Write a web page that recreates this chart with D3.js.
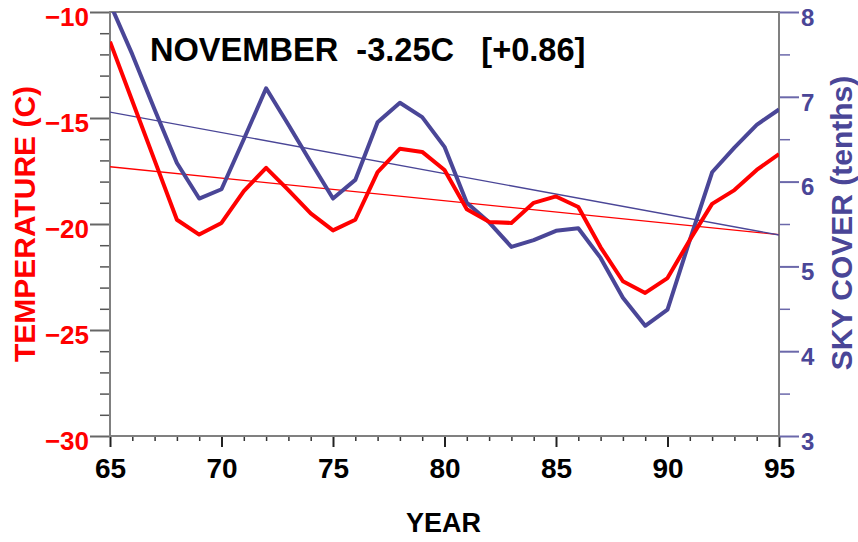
<!DOCTYPE html>
<html>
<head>
<meta charset="utf-8">
<script src="https://cdn.jsdelivr.net/npm/d3@7"></script>
<style>
  html, body { margin: 0; padding: 0; background: #ffffff; }
  svg { display: block; }
  text { font-family: "Liberation Sans", Arial, Helvetica, sans-serif; font-weight: bold; }
</style>
</head>
<body>
<svg id="chart" width="858" height="542"></svg>
<script>
// ---- data ----
const years = [65, 66, 67, 68, 69, 70, 71, 72, 73, 74, 75, 76, 77, 78, 79, 80,
               81, 82, 83, 84, 85, 86, 87, 88, 89, 90, 91, 92, 93, 94, 95];
const temperature = [-11.4, -14.2, -17.0, -19.8, -20.5, -19.95, -18.45, -17.35, -18.4, -19.5,
                     -20.3, -19.8, -17.55, -16.45, -16.6, -17.45, -19.3, -19.9, -19.95, -19.0,
                     -18.7, -19.2, -21.1, -22.7, -23.25, -22.55, -20.75, -19.05, -18.4, -17.45, -16.7];
const skyCover = [8.1, 7.5, 6.85, 6.22, 5.8, 5.91, 6.5, 7.1, 6.67, 6.23,
                  5.8, 6.02, 6.7, 6.93, 6.76, 6.41, 5.75, 5.52, 5.23, 5.31,
                  5.42, 5.45, 5.1, 4.63, 4.3, 4.49, 5.31, 6.11, 6.4, 6.67, 6.85];
const trendYears = [65, 95];
const temperatureTrend = [-17.3, -20.5];
const skyCoverTrend = [6.82, 5.37];
const xTickLabels = [65, 70, 75, 80, 85, 90, 95];
const tempTickLabels = [-30, -25, -20, -15, -10];
const skyTickLabels = [3, 4, 5, 6, 7, 8];
const titleText = "NOVEMBER  -3.25C   [+0.86]";

// ---- layout ----
const RED = "#ff0000";
const BLUE = "#4a4697";
const AXIS = "#808080";
const mLeft = 110, mRight = 779, mTop = 12, mBottom = 436;

const svg = d3.select("#chart");

const x = d3.scaleLinear().domain([65, 95]).range([mLeft, mRight]);
const yT = d3.scaleLinear().domain([-30, -10]).range([mBottom, mTop]);
const yS = d3.scaleLinear().domain([3, 8]).range([mBottom, mTop]);

svg.append("defs").append("clipPath").attr("id", "plotclip")
  .append("rect").attr("x", mLeft).attr("y", mTop).attr("width", mRight - mLeft).attr("height", mBottom - mTop);

const fontStyle = g => g.style("font-family", "'Liberation Sans', Arial, sans-serif").style("font-weight", "bold");

// ---- axes ----
const xMinor = d3.range(65, 96).filter(v => v % 5 !== 0);
svg.append("g").attr("transform", `translate(0,${mBottom})`)
  .call(d3.axisBottom(x).tickValues(xMinor).tickSize(5).tickFormat(""))
  .call(g => g.select(".domain").remove())
  .call(g => g.selectAll("line").attr("stroke", "#333").attr("stroke-width", 1.5));
svg.append("g").attr("transform", `translate(0,${mBottom})`)
  .call(d3.axisBottom(x).tickValues(xTickLabels).tickSize(11).tickPadding(11).tickFormat(d3.format("d")))
  .call(g => g.select(".domain").remove())
  .call(g => g.selectAll("line").attr("stroke", "#222").attr("stroke-width", 2))
  .call(g => g.selectAll("text").attr("fill", "#000").attr("font-size", 28).call(fontStyle));

const tMinor = d3.range(-29, -10).filter(v => v % 5 !== 0);
svg.append("g").attr("transform", `translate(${mLeft},0)`)
  .call(d3.axisLeft(yT).tickValues(tMinor).tickSize(10).tickFormat(""))
  .call(g => g.select(".domain").remove())
  .call(g => g.selectAll("line").attr("stroke", "#555").attr("stroke-width", 1.5));
svg.append("g").attr("transform", `translate(${mLeft},0)`)
  .call(d3.axisLeft(yT).tickValues(tempTickLabels).tickSize(20).tickPadding(1).tickFormat(d3.format("d")))
  .call(g => g.select(".domain").remove())
  .call(g => g.selectAll("line").attr("stroke", "#666").attr("stroke-width", 2))
  .call(g => g.selectAll("text").attr("fill", RED).attr("font-size", 26).attr("dy", "0.5em").call(fontStyle));

const sMinor = [3.5, 4.5, 5.5, 6.5, 7.5];
svg.append("g").attr("transform", `translate(${mRight},0)`)
  .call(d3.axisRight(yS).tickValues(sMinor).tickSize(11).tickFormat(""))
  .call(g => g.select(".domain").remove())
  .call(g => g.selectAll("line").attr("stroke", "#6b68aa").attr("stroke-width", 1.5));
svg.append("g").attr("transform", `translate(${mRight},0)`)
  .call(d3.axisRight(yS).tickValues(skyTickLabels).tickSize(20).tickPadding(2).tickFormat(d3.format("d")))
  .call(g => g.select(".domain").remove())
  .call(g => g.selectAll("line").attr("stroke", "#6b68aa").attr("stroke-width", 2))
  .call(g => g.selectAll("text").attr("fill", BLUE).attr("font-size", 24).attr("dy", "0.55em").call(fontStyle));

svg.append("rect").attr("x", mLeft).attr("y", mTop).attr("width", mRight - mLeft).attr("height", mBottom - mTop)
  .attr("fill", "none").attr("stroke", AXIS).attr("stroke-width", 2);

// ---- trend lines ----
const plot = svg.append("g").attr("clip-path", "url(#plotclip)");
plot.append("path")
  .attr("d", d3.line().x((d, i) => x(trendYears[i])).y(d => yT(d))(temperatureTrend))
  .attr("fill", "none").attr("stroke", RED).attr("stroke-width", 1.3);
plot.append("path")
  .attr("d", d3.line().x((d, i) => x(trendYears[i])).y(d => yS(d))(skyCoverTrend))
  .attr("fill", "none").attr("stroke", BLUE).attr("stroke-width", 1.3);

// ---- series ----
plot.append("path")
  .attr("d", d3.line().x((d, i) => x(years[i])).y(d => yS(d))(skyCover))
  .attr("fill", "none").attr("stroke", BLUE).attr("stroke-width", 4).attr("stroke-linejoin", "round");
plot.append("path")
  .attr("d", d3.line().x((d, i) => x(years[i])).y(d => yT(d))(temperature))
  .attr("fill", "none").attr("stroke", RED).attr("stroke-width", 4).attr("stroke-linejoin", "round");

// ---- texts ----
svg.append("text").attr("x", 150).attr("y", 61).attr("font-size", 32.6).attr("fill", "#000")
  .style("white-space", "pre").attr("xml:space", "preserve").text(titleText);

svg.append("text").attr("x", (mLeft + mRight) / 2 - 1).attr("y", 532).attr("text-anchor", "middle")
  .attr("font-size", 27).attr("fill", "#000").text("YEAR");

svg.append("text").attr("transform", `translate(35,224) rotate(-90)`).attr("text-anchor", "middle")
  .attr("font-size", 30).attr("fill", RED).text("TEMPERATURE (C)");

svg.append("text").attr("transform", `translate(852,223) rotate(-90)`).attr("text-anchor", "middle")
  .attr("font-size", 30).attr("fill", BLUE).text("SKY COVER (tenths)");
</script>
</body>
</html>
